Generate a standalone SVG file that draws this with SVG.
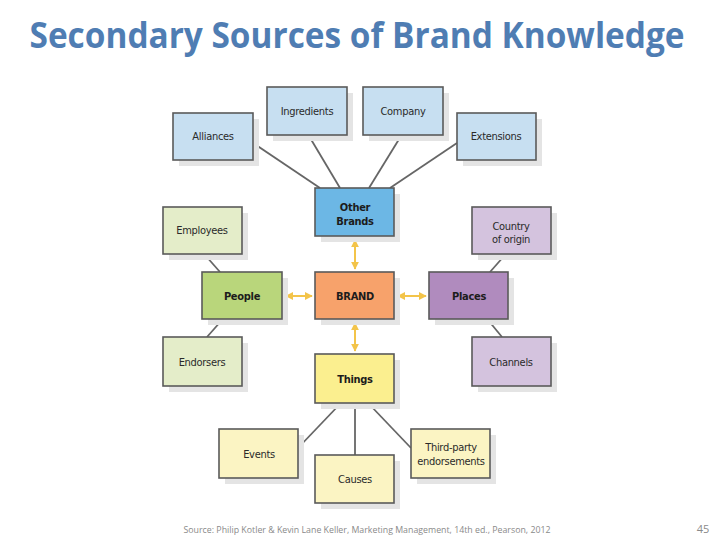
<svg xmlns="http://www.w3.org/2000/svg" width="720" height="540" viewBox="0 0 720 540">
<style>
.sh{fill:#e4e4e4}
.b{stroke:#5a5a5a;stroke-width:1.6}
.lb{fill:#c7dff1}.ob{fill:#6cb7e5}
.lg{fill:#e4edc9}.pg{fill:#b9d67b}
.br{fill:#f7a26b}
.lp{fill:#d4c3de}.pp{fill:#b08bbe}
.ly{fill:#fbf4c3}.ty{fill:#fbef8f}
text{font-family:"Liberation Sans Narrow","DejaVu Sans Condensed","Liberation Sans",sans-serif;font-size:11px;letter-spacing:-0.3px;fill:#2a2a2a;text-anchor:middle}
.bold{font-weight:bold;fill:#1c1c1c}
.con line{stroke:#666;stroke-width:1.8}
.arr line{stroke:#f3c44a;stroke-width:2;marker-start:url(#ah);marker-end:url(#ah)}
</style>
<defs>
<marker id="ah" viewBox="0 0 10 10" refX="9" refY="5" markerWidth="4" markerHeight="4" orient="auto-start-reverse" markerUnits="strokeWidth">
<path d="M0,0 L10,5 L0,10 z" fill="#f3c44a"/>
</marker>
</defs>
<rect width="720" height="540" fill="#ffffff"/>
<text x="357" y="48" style="font-family:'Open Sans','Liberation Sans',sans-serif;font-size:35px;font-weight:bold;letter-spacing:0;fill:#4f7db3" textLength="655" lengthAdjust="spacingAndGlyphs">Secondary Sources of Brand Knowledge</text>

<g class="con">
<line x1="253" y1="143" x2="320" y2="188"/>
<line x1="309" y1="136" x2="340" y2="188"/>
<line x1="401" y1="136" x2="369" y2="188"/>
<line x1="457" y1="143" x2="390" y2="188"/>
<line x1="205" y1="255" x2="220" y2="272"/>
<line x1="222" y1="320" x2="207" y2="337"/>
<line x1="505" y1="255" x2="490" y2="272"/>
<line x1="488" y1="320" x2="502" y2="337"/>
<line x1="340" y1="404" x2="298" y2="448"/>
<line x1="355" y1="404" x2="355" y2="455"/>
<line x1="369" y1="404" x2="411" y2="448"/>
</g>
<g class="arr">
<line x1="355" y1="240" x2="355" y2="269"/>
<line x1="286" y1="296" x2="312" y2="296"/>
<line x1="398" y1="296" x2="426" y2="296"/>
<line x1="355" y1="323" x2="355" y2="351"/>
</g>

<g id="alliances"><rect class="sh" x="179" y="119" width="80" height="47"/><rect class="lb b" x="173" y="113" width="80" height="47"/><text x="213" y="140">Alliances</text></g>
<g id="ingredients"><rect class="sh" x="273" y="93" width="80" height="48"/><rect class="lb b" x="267" y="87" width="80" height="48"/><text x="307" y="115">Ingredients</text></g>
<g id="company"><rect class="sh" x="369" y="93" width="80" height="48"/><rect class="lb b" x="363" y="87" width="80" height="48"/><text x="403" y="115">Company</text></g>
<g id="extensions"><rect class="sh" x="463" y="119" width="79" height="47"/><rect class="lb b" x="457" y="113" width="79" height="47"/><text x="496" y="140">Extensions</text></g>
<g id="other-brands"><rect class="sh" x="321" y="194" width="79" height="48"/><rect class="ob b" x="315" y="188" width="79" height="48"/><text class="bold" x="355" y="211">Other</text><text class="bold" x="355" y="225">Brands</text></g>
<g id="employees"><rect class="sh" x="169" y="213" width="79" height="47"/><rect class="lg b" x="163" y="207" width="79" height="47"/><text x="202" y="234">Employees</text></g>
<g id="country"><rect class="sh" x="478" y="213" width="79" height="47"/><rect class="lp b" x="472" y="207" width="79" height="47"/><text x="511" y="230">Country</text><text x="511" y="243">of origin</text></g>
<g id="people"><rect class="sh" x="208" y="278" width="80" height="47"/><rect class="pg b" x="202" y="272" width="80" height="47"/><text class="bold" x="242" y="300">People</text></g>
<g id="brand"><rect class="sh" x="321" y="278" width="79" height="47"/><rect class="br b" x="315" y="272" width="79" height="47"/><text class="bold" x="355" y="300">BRAND</text></g>
<g id="places"><rect class="sh" x="435" y="278" width="79" height="47"/><rect class="pp b" x="429" y="272" width="79" height="47"/><text class="bold" x="469" y="300">Places</text></g>
<g id="endorsers"><rect class="sh" x="169" y="343" width="79" height="49"/><rect class="lg b" x="163" y="337" width="79" height="49"/><text x="202" y="366">Endorsers</text></g>
<g id="channels"><rect class="sh" x="478" y="343" width="79" height="49"/><rect class="lp b" x="472" y="337" width="79" height="49"/><text x="511" y="366">Channels</text></g>
<g id="things"><rect class="sh" x="321" y="360" width="79" height="49"/><rect class="ty b" x="315" y="354" width="79" height="49"/><text class="bold" x="355" y="383">Things</text></g>
<g id="events"><rect class="sh" x="225" y="435" width="79" height="49"/><rect class="ly b" x="219" y="429" width="79" height="49"/><text x="259" y="458">Events</text></g>
<g id="causes"><rect class="sh" x="321" y="461" width="79" height="48"/><rect class="ly b" x="315" y="455" width="79" height="48"/><text x="355" y="483">Causes</text></g>
<g id="third-party"><rect class="sh" x="417" y="435" width="79" height="49"/><rect class="ly b" x="411" y="429" width="79" height="49"/><text x="451" y="451">Third-party</text><text x="451" y="465">endorsements</text></g>

<text x="367" y="533" style="font-family:'Open Sans','Liberation Sans',sans-serif;font-size:9px;letter-spacing:0;fill:#8a8a8a" textLength="367" lengthAdjust="spacingAndGlyphs">Source: Philip Kotler &amp; Kevin Lane Keller, Marketing Management, 14th ed., Pearson, 2012</text>
<text x="703" y="533" style="font-family:'Open Sans','Liberation Sans',sans-serif;font-size:11px;letter-spacing:0;fill:#8a8a8a">45</text>
</svg>
